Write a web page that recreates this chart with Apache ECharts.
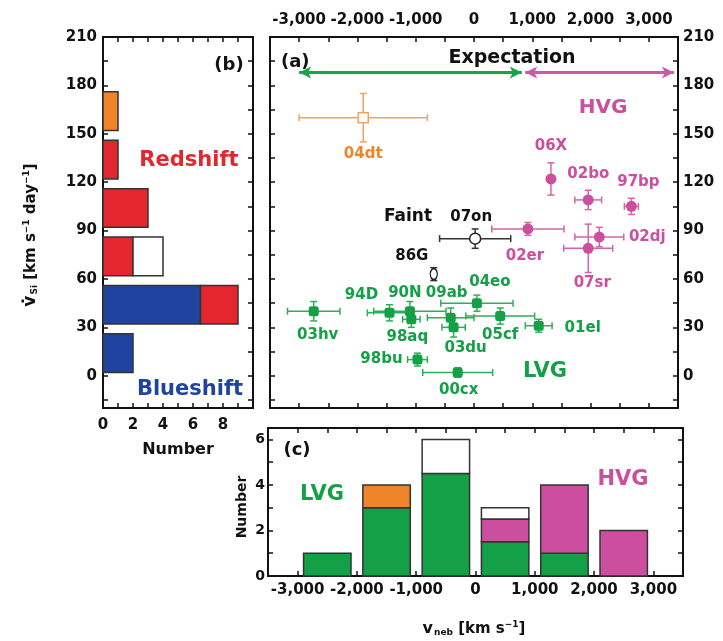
<!DOCTYPE html>
<html>
<head>
<meta charset="utf-8">
<script src="https://cdn.jsdelivr.net/npm/echarts@6/dist/echarts.min.js"></script>
<style>html,body{margin:0;padding:0;background:#fff}#c{width:723px;height:641px}</style>
</head>
<body>
<div id="c"></div>
<script>
// ---------- Panel (b): histogram of Si velocity gradient ----------
const bBinCenters = [14, 44, 74, 104, 134, 164];
const bBlue   = [2, 6.5, 0, 0, 0, 0];
const bRed    = [0, 2.5, 2, 3, 1, 0];
const bWhite  = [0, 0, 2, 0, 0, 0];
const bOrange = [0, 0, 0, 0, 0, 1];

// ---------- Panel (c): histogram of nebular velocity ----------
const cBinCenters = [-2500, -1500, -500, 500, 1500, 2500];
const cGreen  = [1, 3, 4.5, 1.5, 1, 0];
const cPink   = [0, 0, 0, 1, 3, 2];
const cOrange = [0, 1, 0, 0, 0, 0];
const cWhite  = [0, 0, 1.5, 0.5, 0, 0];

// ---------- Panel (a): scatter with error bars ----------
const lvgNames = ['03hv', '94D', '90N', '98aq', '09ab', '03du', '04eo', '05cf', '01el', '98bu', '00cx'];
const lvgX     = [-2750, -1450, -1100, -1075, -400, -350, 50, 450, 1110, -970, -280];
const lvgY     = [40, 39, 40, 35, 36, 30, 45, 37, 31, 10, 2];
const lvgXErr  = [450, 380, 620, 150, 400, 200, 620, 590, 230, 170, 600];
const lvgYErr  = [6, 5, 6, 5, 6, 6, 5, 5, 4, 4, 3];

const hvgNames = ['02er', '06X', '02bo', '97bp', '02dj', '07sr'];
const hvgX     = [925, 1320, 1960, 2700, 2150, 1960];
const hvgY     = [91, 122, 109, 105, 86, 79];
const hvgXErr  = [620, 0, 230, 120, 420, 420];
const hvgYErr  = [4, 10, 6, 5, 6, 15];

const faintNames = ['07on', '86G'];
const faintX     = [20, -690];
const faintY     = [85, 63];
const faintXErr  = [610, 0];
const faintYErr  = [6, 4];

const odtNames = ['04dt'];
const odtX     = [-1900];
const odtY     = [160];
const odtXErr  = [1100];
const odtYErr  = [15];

// Expectation ranges (v_neb) and their height
const expectLVG = [-3000, 820];
const expectHVG = [880, 3430];
const expectY = 188;

// tick label values
const aXLabels = [-3000, -2000, -1000, 0, 1000, 2000, 3000];
const aYLabels = [0, 30, 60, 90, 120, 150, 180, 210];
const bXLabels = [0, 2, 4, 6, 8];
const cYLabels = [0, 2, 4, 6];

// ---------- styles ----------
const GREEN = '#14a047', PINK = '#cc4f9f', ORANGE = '#ef8429', RED = '#e4262e', BLUE = '#1f44a0';
const ERR_GREEN = '#2fae58', ERR_PINK = '#d266aa', ERR_ORANGE = '#f4a35e', ERR_BLACK = '#333';
const FONT = '"DejaVu Sans", sans-serif';

// label offsets (pixels, relative to point)
const labelOffsets = {
  '04dt': [0, 36], '06X': [0, -33], '02bo': [0, -26], '97bp': [7, -24],
  '07on': [-4, -22], '86G': [-22, -18], '02er': [-3, 27], '02dj': [48, 0], '07sr': [4, 35],
  '04eo': [13, -21], '94D': [-28, -18], '90N': [-5, -18], '09ab': [-4, -25], '03hv': [4, 24],
  '98aq': [-4, 18], '05cf': [0, 19], '01el': [44, 2], '03du': [12, 21], '98bu': [-36, 0], '00cx': [1, 18]
};

function range(a, b, s) { const r = []; for (let v = a; v <= b + 1e-9; v += s) r.push(v); return r; }

function axis(o) {
  const base = {
    type: 'value',
    splitLine: { show: false },
    axisLine: { show: true, onZero: false, lineStyle: { color: '#111', width: 2 } },
    axisTick: { show: true, inside: true, length: 5, lineStyle: { color: '#111', width: 1.5 } },
    axisLabel: { show: false, color: '#111', fontFamily: FONT, fontWeight: 'bold', fontSize: 15 }
  };
  const r = Object.assign({}, base, o);
  if (o.axisTick) r.axisTick = Object.assign({}, base.axisTick, o.axisTick);
  if (o.axisLabel) r.axisLabel = Object.assign({}, base.axisLabel, o.axisLabel);
  return r;
}
const fmtK = v => Number(v).toLocaleString('en-US');

// error-bar renderer
function errRender(color) {
  return function (params, api) {
    const x = api.value(0), y = api.value(1), ex = api.value(2), ey = api.value(3);
    const ch = [];
    const st = { stroke: color, lineWidth: 1.5 };
    const cap = 3.5;
    if (ex > 0) {
      const l = api.coord([x - ex, y]), r = api.coord([x + ex, y]);
      ch.push({ type: 'line', shape: { x1: l[0], y1: l[1], x2: r[0], y2: r[1] }, style: st });
      ch.push({ type: 'line', shape: { x1: l[0], y1: l[1] - cap, x2: l[0], y2: l[1] + cap }, style: st });
      ch.push({ type: 'line', shape: { x1: r[0], y1: r[1] - cap, x2: r[0], y2: r[1] + cap }, style: st });
    }
    if (ey > 0) {
      const t = api.coord([x, y + ey]), b = api.coord([x, y - ey]);
      ch.push({ type: 'line', shape: { x1: t[0], y1: t[1], x2: b[0], y2: b[1] }, style: st });
      ch.push({ type: 'line', shape: { x1: t[0] - cap, y1: t[1], x2: t[0] + cap, y2: t[1] }, style: st });
      ch.push({ type: 'line', shape: { x1: b[0] - cap, y1: b[1], x2: b[0] + cap, y2: b[1] }, style: st });
    }
    return { type: 'group', children: ch };
  };
}

function errData(xs, ys, exs, eys) { return xs.map((x, i) => [x, ys[i], exs[i], eys[i]]); }
function ptData(names, xs, ys) {
  return names.map((n, i) => ({
    name: n, value: [xs[i], ys[i]],
    label: { offset: labelOffsets[n] || [0, 0] }
  }));
}
function ptLabel(color) {
  return { show: true, position: 'inside', formatter: '{b}', color: color, opacity: 1, fontFamily: FONT, fontWeight: 'bold', fontSize: 15 };
}

// horizontal stacked histogram (b)
function bRender(params, api) {
  const i = params.dataIndex, c = api.value(0);
  const segs = [[bBlue[i], BLUE], [bRed[i], RED], [bWhite[i], '#fff'], [bOrange[i], ORANGE]];
  let x0 = 0; const ch = [];
  segs.forEach(([v, col]) => {
    if (v > 0) {
      const p0 = api.coord([x0, c + 12]), p1 = api.coord([x0 + v, c - 12]);
      ch.push({ type: 'rect', shape: { x: p0[0], y: p0[1], width: p1[0] - p0[0], height: p1[1] - p0[1] }, style: { fill: col, stroke: '#333', lineWidth: 1.5 } });
      x0 += v;
    }
  });
  return { type: 'group', children: ch };
}
// vertical stacked histogram (c)
function cRender(params, api) {
  const i = params.dataIndex, c = api.value(0);
  const segs = [[cGreen[i], GREEN], [cPink[i], PINK], [cOrange[i], ORANGE], [cWhite[i], '#fff']];
  let y0 = 0; const ch = [];
  segs.forEach(([v, col]) => {
    if (v > 0) {
      const p0 = api.coord([c - 400, y0 + v]), p1 = api.coord([c + 400, y0]);
      ch.push({ type: 'rect', shape: { x: p0[0], y: p0[1], width: p1[0] - p0[0], height: p1[1] - p0[1] }, style: { fill: col, stroke: '#333', lineWidth: 1.5 } });
      y0 += v;
    }
  });
  return { type: 'group', children: ch };
}

const gridBorder = { show: true, borderColor: '#111', borderWidth: 2, backgroundColor: 'transparent' };
const emph = { disabled: true };

const option = {
  backgroundColor: '#fff',
  animation: false,
  grid: [
    Object.assign({ left: 103, top: 37, width: 150, height: 371 }, gridBorder),
    Object.assign({ left: 270, top: 37, width: 408, height: 371 }, gridBorder),
    Object.assign({ left: 268, top: 428, width: 415, height: 148 }, gridBorder)
  ],
  xAxis: [
    axis({ gridIndex: 0, position: 'bottom', min: 0, max: 10,
      axisTick: { customValues: range(0, 10, 1) },
      axisLabel: { show: true, customValues: bXLabels, margin: 10 } }),
    axis({ gridIndex: 0, position: 'top', min: 0, max: 10, axisTick: { customValues: range(0, 10, 1) } }),
    axis({ gridIndex: 1, position: 'top', min: -3500, max: 3500,
      axisTick: { customValues: range(-3500, 3500, 500) },
      axisLabel: { show: true, customValues: aXLabels, formatter: fmtK, margin: 9 } }),
    axis({ gridIndex: 1, position: 'bottom', min: -3500, max: 3500, axisTick: { customValues: range(-3500, 3500, 500) } }),
    axis({ gridIndex: 2, position: 'bottom', min: -3500, max: 3500,
      axisTick: { customValues: range(-3500, 3500, 500) },
      axisLabel: { show: true, customValues: aXLabels, formatter: fmtK, margin: 7 } }),
    axis({ gridIndex: 2, position: 'top', min: -3500, max: 3500, axisTick: { customValues: range(-3500, 3500, 500) } })
  ],
  yAxis: [
    axis({ gridIndex: 0, position: 'left', min: -20, max: 210,
      axisTick: { customValues: range(-15, 210, 15) },
      axisLabel: { show: true, customValues: aYLabels, margin: 6 } }),
    axis({ gridIndex: 0, position: 'right', min: -20, max: 210, axisTick: { customValues: range(-15, 210, 15) } }),
    axis({ gridIndex: 1, position: 'left', min: -20, max: 210, axisTick: { customValues: range(-15, 210, 15) } }),
    axis({ gridIndex: 1, position: 'right', min: -20, max: 210,
      axisTick: { customValues: range(-15, 210, 15) },
      axisLabel: { show: true, customValues: aYLabels, margin: 5 } }),
    axis({ gridIndex: 2, position: 'left', min: 0, max: 6.5,
      axisTick: { customValues: range(0, 6, 1) },
      axisLabel: { show: true, customValues: cYLabels, margin: 3, fontSize: 14 } }),
    axis({ gridIndex: 2, position: 'right', min: 0, max: 6.5, axisTick: { customValues: range(0, 6, 1) } })
  ],
  series: [
    { type: 'custom', xAxisIndex: 0, yAxisIndex: 0, renderItem: bRender,
      data: bBinCenters.map((c, i) => [c, bBlue[i] + bRed[i] + bWhite[i] + bOrange[i]]),
      encode: { y: 0, x: 1 }, z: 2 },
    { type: 'custom', xAxisIndex: 4, yAxisIndex: 4, renderItem: cRender,
      data: cBinCenters.map((c, i) => [c, cGreen[i] + cPink[i] + cOrange[i] + cWhite[i]]),
      encode: { x: 0, y: 1 }, z: 2 },
    // error bars
    { type: 'custom', xAxisIndex: 2, yAxisIndex: 2, renderItem: errRender(ERR_GREEN), data: errData(lvgX, lvgY, lvgXErr, lvgYErr), encode: { x: 0, y: 1 }, z: 2 },
    { type: 'custom', xAxisIndex: 2, yAxisIndex: 2, renderItem: errRender(ERR_PINK), data: errData(hvgX, hvgY, hvgXErr, hvgYErr), encode: { x: 0, y: 1 }, z: 2 },
    { type: 'custom', xAxisIndex: 2, yAxisIndex: 2, renderItem: errRender(ERR_BLACK), data: errData(faintX, faintY, faintXErr, faintYErr), encode: { x: 0, y: 1 }, z: 2 },
    { type: 'custom', xAxisIndex: 2, yAxisIndex: 2, renderItem: errRender(ERR_ORANGE), data: errData(odtX, odtY, odtXErr, odtYErr), encode: { x: 0, y: 1 }, z: 2 },
    // markers
    { type: 'scatter', xAxisIndex: 2, yAxisIndex: 2, symbol: 'roundRect', symbolSize: 10, emphasis: emph,
      itemStyle: { color: GREEN, opacity: 1 }, label: ptLabel(GREEN), data: ptData(lvgNames, lvgX, lvgY), z: 3,
      markLine: { silent: true, symbol: ['arrow', 'arrow'], symbolSize: [9, 12], label: { show: false },
        lineStyle: { color: '#14a64a', width: 3, type: 'solid', opacity: 1 },
        data: [[{ coord: [expectLVG[0], expectY] }, { coord: [expectLVG[1], expectY] }]] } },
    { type: 'scatter', xAxisIndex: 2, yAxisIndex: 2, symbol: 'circle', symbolSize: 11, emphasis: emph,
      itemStyle: { color: PINK, opacity: 1 }, label: ptLabel(PINK), data: ptData(hvgNames, hvgX, hvgY), z: 3,
      markLine: { silent: true, symbol: ['arrow', 'arrow'], symbolSize: [9, 12], label: { show: false },
        lineStyle: { color: '#cf58a6', width: 3, type: 'solid', opacity: 1 },
        data: [[{ coord: [expectHVG[0], expectY] }, { coord: [expectHVG[1], expectY] }]] } },
    { type: 'scatter', xAxisIndex: 2, yAxisIndex: 2, symbol: 'circle', symbolSize: [11, 11], emphasis: emph,
      itemStyle: { color: '#fff', borderColor: '#222', borderWidth: 1.5, opacity: 1 }, label: ptLabel('#111'),
      data: ptData(faintNames, faintX, faintY).map((d, i) => i === 1 ? Object.assign(d, { symbolSize: [7, 11] }) : d), z: 3 },
    { type: 'scatter', xAxisIndex: 2, yAxisIndex: 2, symbol: 'rect', symbolSize: 10, emphasis: emph,
      itemStyle: { color: '#fff', borderColor: ERR_ORANGE, borderWidth: 1.5, opacity: 1 }, label: ptLabel(ORANGE), data: ptData(odtNames, odtX, odtY), z: 3 }
  ],
  graphic: [
    { type: 'text', x: 281, y: 62, style: { text: '(a)', font: 'bold 18px ' + FONT, fill: '#111', verticalAlign: 'middle' } },
    { type: 'text', x: 512, y: 58, style: { text: 'Expectation', font: 'bold 19px ' + FONT, fill: '#111', align: 'center', verticalAlign: 'middle' } },
    { type: 'text', x: 603, y: 108, style: { text: 'HVG', font: 'bold 20px ' + FONT, fill: PINK, align: 'center', verticalAlign: 'middle' } },
    { type: 'text', x: 545, y: 372, style: { text: 'LVG', font: 'bold 21px ' + FONT, fill: GREEN, align: 'center', verticalAlign: 'middle' } },
    { type: 'text', x: 408, y: 217, style: { text: 'Faint', font: 'bold 17px ' + FONT, fill: '#111', align: 'center', verticalAlign: 'middle' } },
    { type: 'text', x: 229, y: 65, style: { text: '(b)', font: 'bold 18px ' + FONT, fill: '#111', align: 'center', verticalAlign: 'middle' } },
    { type: 'text', x: 189, y: 161, style: { text: 'Redshift', font: 'bold 21px ' + FONT, fill: RED, align: 'center', verticalAlign: 'middle' } },
    { type: 'text', x: 190, y: 390, style: { text: 'Blueshift', font: 'bold 21px ' + FONT, fill: BLUE, align: 'center', verticalAlign: 'middle' } },
    { type: 'text', x: 178, y: 450, style: { text: 'Number', font: 'bold 16px ' + FONT, fill: '#111', align: 'center', verticalAlign: 'middle' } },
    { type: 'text', x: 297, y: 450, style: { text: '(c)', font: 'bold 18px ' + FONT, fill: '#111', align: 'center', verticalAlign: 'middle' } },
    { type: 'text', x: 322, y: 495, style: { text: 'LVG', font: 'bold 21px ' + FONT, fill: GREEN, align: 'center', verticalAlign: 'middle' } },
    { type: 'text', x: 623, y: 480, style: { text: 'HVG', font: 'bold 21px ' + FONT, fill: PINK, align: 'center', verticalAlign: 'middle' } },
    { type: 'text', x: 242, y: 507, rotation: Math.PI / 2, style: { text: 'Number', font: 'bold 14px ' + FONT, fill: '#111', align: 'center', verticalAlign: 'middle' } },
    { type: 'text', x: 31, y: 235, rotation: Math.PI / 2,
      style: { text: '{v|v\u0307}{s|Si} [km s{p|\u22121} day{p|\u22121}]', align: 'center', verticalAlign: 'middle',
        font: 'bold 15px ' + FONT, fill: '#111',
        rich: { v: { font: 'bold 17px ' + FONT, fill: '#111' },
                s: { font: 'bold 9px ' + FONT, fill: '#111', verticalAlign: 'bottom', padding: [8, 0, 0, 1] },
                p: { font: 'bold 9px ' + FONT, fill: '#111', verticalAlign: 'top', padding: [0, 0, 8, 0] } } } },
    { type: 'text', x: 474, y: 629,
      style: { text: '{v|v}{s|neb} [km s{p|\u22121}]', align: 'center', verticalAlign: 'middle',
        font: 'bold 15px ' + FONT, fill: '#111',
        rich: { v: { font: 'bold 16px ' + FONT, fill: '#111' },
                s: { font: 'bold 9px ' + FONT, fill: '#111', verticalAlign: 'bottom', padding: [8, 0, 0, 1] },
                p: { font: 'bold 9px ' + FONT, fill: '#111', verticalAlign: 'top', padding: [0, 0, 8, 0] } } } }
  ]
};

const chart = echarts.init(document.getElementById('c'), null, { renderer: 'canvas' });
chart.setOption(option);
</script>
</body>
</html>
